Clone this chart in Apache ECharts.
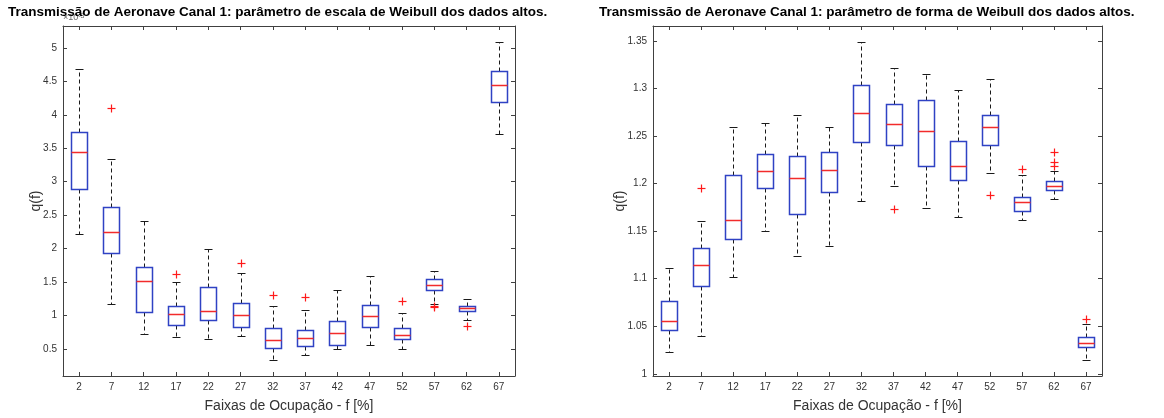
<!DOCTYPE html>
<html>
<head>
<meta charset="utf-8">
<script src="https://cdn.jsdelivr.net/npm/echarts@6/dist/echarts.min.js"></script>
<style>
html,body{margin:0;padding:0;background:#fff;}
#chart{width:1164px;height:418px;}
</style>
</head>
<body>
<div id="chart"></div>
<script>
// ---- data ----
const categories = ['2','7','12','17','22','27','32','37','42','47','52','57','62','67'];

const leftTicks = [0.5, 1, 1.5, 2, 2.5, 3, 3.5, 4, 4.5, 5];
const rightTicks = [1, 1.05, 1.1, 1.15, 1.2, 1.25, 1.3, 1.35];

// scale parameter (x10^-3)
const scaleLow  = [2.215, 1.171, 0.721, 0.676, 0.641, 0.685, 0.332, 0.401, 0.490, 0.553, 0.490, 1.176, 0.926, 3.706];
const scaleQ1   = [2.891, 1.926, 1.044, 0.853, 0.935, 0.832, 0.504, 0.534, 0.559, 0.828, 0.641, 1.382, 1.059, 4.191];
const scaleMed  = [3.441, 2.240, 1.515, 1.019, 1.068, 1.009, 0.627, 0.656, 0.735, 0.985, 0.706, 1.456, 1.103, 4.446];
const scaleQ3   = [3.744, 2.622, 1.721, 1.147, 1.421, 1.185, 0.813, 0.774, 0.921, 1.156, 0.818, 1.544, 1.147, 4.662];
const scaleHigh = [4.686, 3.338, 2.412, 1.500, 1.985, 1.632, 1.147, 1.078, 1.372, 1.582, 1.029, 1.666, 1.240, 5.082];
const scaleOutliers = [[1,4.103],[3,1.618],[5,1.788],[6,1.299],[7,1.274],[10,1.221],[11,1.135],[11,1.120],[12,0.843]];

// shape parameter
const shapeLow  = [1.0228,1.0397,1.1016,1.1506,1.1244,1.1340,1.1817,1.1973,1.1741,1.1651,1.2114,1.1620,1.1838,1.0142];
const shapeQ1   = [1.0464,1.0920,1.1417,1.1959,1.1676,1.1907,1.2436,1.2405,1.2187,1.2039,1.2402,1.1713,1.1928,1.0277];
const shapeMed  = [1.0560,1.1148,1.1617,1.2132,1.2060,1.2146,1.2744,1.2630,1.2557,1.2184,1.2591,1.1804,1.1980,1.0322];
const shapeQ3   = [1.0770,1.1324,1.2094,1.2315,1.2291,1.2332,1.3037,1.2833,1.2884,1.2453,1.2726,1.1863,1.2024,1.0391];
const shapeHigh = [1.1112,1.1610,1.2591,1.2633,1.2723,1.2594,1.3486,1.3216,1.3148,1.2985,1.3099,1.2091,1.2135,1.0526];
const shapeOutliers = [[1,1.1956],[7,1.1731],[10,1.1883],[11,1.2153],[12,1.2329],[12,1.2228],[12,1.2187],[13,1.0581]];

// ---- build ----
const FONT = "'Liberation Sans', Arial, Helvetica, sans-serif";
const AXIS_COLOR = '#404040';
const LABEL_COLOR = '#333333';
const BOX_COLOR = '#2f42c4';
const MED_COLOR = '#f22b2b';
const OUT_COLOR = '#ff1a1a';

function boxData(lo, q1, med, q3, hi) {
  return categories.map((c, i) => [i, lo[i], q1[i], med[i], q3[i], hi[i]]);
}

function renderBox(params, api) {
  const idx = api.value(0);
  const pLo = api.coord([idx, api.value(1)]);
  const pQ1 = api.coord([idx, api.value(2)]);
  const pMed = api.coord([idx, api.value(3)]);
  const pQ3 = api.coord([idx, api.value(4)]);
  const pHi = api.coord([idx, api.value(5)]);
  const bw = api.size([1, 0])[0];
  const x = Math.round(pLo[0]) + 0.5;
  const half = Math.round(bw * 0.25);
  const cap = Math.round(bw * 0.125);
  const r = v => Math.round(v) + 0.5;
  const dash = { stroke: '#1a1a1a', lineWidth: 1, lineDash: [4, 3], fill: null };
  const solid = { stroke: '#1a1a1a', lineWidth: 1, fill: null };
  return {
    type: 'group',
    children: [
      { type: 'line', shape: { x1: x, y1: r(pQ3[1]), x2: x, y2: r(pHi[1]) }, style: dash },
      { type: 'line', shape: { x1: x, y1: r(pQ1[1]), x2: x, y2: r(pLo[1]) }, style: dash },
      { type: 'line', shape: { x1: x - cap, y1: r(pHi[1]), x2: x + cap, y2: r(pHi[1]) }, style: solid },
      { type: 'line', shape: { x1: x - cap, y1: r(pLo[1]), x2: x + cap, y2: r(pLo[1]) }, style: solid },
      { type: 'rect', shape: { x: x - half, y: r(pQ3[1]), width: 2 * half, height: r(pQ1[1]) - r(pQ3[1]) },
        style: { stroke: BOX_COLOR, lineWidth: 1.5, fill: '#fff' } },
      { type: 'line', shape: { x1: x - half, y1: r(pMed[1]), x2: x + half, y2: r(pMed[1]) },
        style: { stroke: MED_COLOR, lineWidth: 1.5 } }
    ]
  };
}

function renderOutlier(params, api) {
  const p = api.coord([api.value(0), api.value(1)]);
  const x = Math.round(p[0]) + 0.5, y = Math.round(p[1]) + 0.5;
  const s = 4;
  const st = { stroke: OUT_COLOR, lineWidth: 1.2 };
  return {
    type: 'group',
    children: [
      { type: 'line', shape: { x1: x - s, y1: y, x2: x + s, y2: y }, style: st },
      { type: 'line', shape: { x1: x, y1: y - s, x2: x, y2: y + s }, style: st }
    ]
  };
}

const fmt = v => String(+(+v).toFixed(3));

function xAxes(gridIndex) {
  return [
    {
      type: 'category', gridIndex, position: 'bottom', data: categories,
      boundaryGap: true,
      axisLine: { show: true, lineStyle: { color: AXIS_COLOR, width: 1 } },
      axisTick: { show: true, inside: true, alignWithLabel: true, length: 4, lineStyle: { color: AXIS_COLOR } },
      axisLabel: { show: true, color: LABEL_COLOR, fontSize: 10, fontFamily: FONT, margin: 6, interval: 0 },
      splitLine: { show: false },
      name: 'Faixas de Ocupação - f [%]', nameLocation: 'middle', nameGap: 23,
      nameMoveOverlap: false,
      nameTextStyle: { color: LABEL_COLOR, fontSize: 14, fontFamily: FONT }
    },
    {
      type: 'category', gridIndex, position: 'top', data: categories,
      boundaryGap: true,
      axisLine: { show: true, lineStyle: { color: AXIS_COLOR, width: 1 } },
      axisTick: { show: true, inside: true, alignWithLabel: true, length: 4, lineStyle: { color: AXIS_COLOR } },
      axisLabel: { show: false, interval: 0 },
      splitLine: { show: false }
    }
  ];
}

function yAxes(gridIndex, min, max, ticks, gap) {
  return [
    {
      type: 'value', gridIndex, position: 'left', min, max,
      axisLine: { show: true, lineStyle: { color: AXIS_COLOR, width: 1 } },
      axisTick: { show: true, inside: true, length: 4, customValues: ticks, lineStyle: { color: AXIS_COLOR } },
      axisLabel: { show: true, customValues: ticks, formatter: fmt, color: LABEL_COLOR, fontSize: 10, fontFamily: FONT, margin: 6 },
      splitLine: { show: false },
      name: 'q(f)', nameLocation: 'middle', nameRotate: 90, nameGap: gap,
      nameMoveOverlap: false,
      nameTextStyle: { color: LABEL_COLOR, fontSize: 14, fontFamily: FONT }
    },
    {
      type: 'value', gridIndex, position: 'right', min, max,
      axisLine: { show: true, lineStyle: { color: AXIS_COLOR, width: 1 } },
      axisTick: { show: true, inside: true, length: 4, customValues: ticks, lineStyle: { color: AXIS_COLOR } },
      axisLabel: { show: false, customValues: ticks },
      splitLine: { show: false }
    }
  ];
}

const option = {
  backgroundColor: '#ffffff',
  animation: false,
  title: [
    { text: 'Transmissão de Aeronave Canal 1: parâmetro de escala de Weibull dos dados altos.',
      left: 8, top: 5, z: 10, padding: 0,
      textStyle: { fontSize: 13.5, fontWeight: 'bold', color: '#000', fontFamily: FONT } },
    { text: 'Transmissão de Aeronave Canal 1: parâmetro de forma de Weibull dos dados altos.',
      left: 599, top: 5, z: 10, padding: 0,
      textStyle: { fontSize: 13.5, fontWeight: 'bold', color: '#000', fontFamily: FONT } }
  ],
  graphic: [
    { type: 'text', left: 63, top: 13, z: 0,
      style: { text: '×10{s|-3}', fill: '#666', font: '9px ' + FONT,
        rich: { s: { fontSize: 7, verticalAlign: 'top', fill: '#666' } } } }
  ],
  grid: [
    { left: 63, top: 26, width: 452, height: 356, containLabel: false },
    { left: 653, top: 26, width: 449, height: 356, containLabel: false }
  ],
  xAxis: [...xAxes(0), ...xAxes(1)],
  yAxis: [...yAxes(0, 0.0926, 5.328, leftTicks, 20), ...yAxes(1, 0.9977, 1.3658, rightTicks, 26)],
  series: [
    { type: 'custom', xAxisIndex: 0, yAxisIndex: 0, renderItem: renderBox,
      encode: { x: 0, y: [1, 2, 3, 4, 5] },
      data: boxData(scaleLow, scaleQ1, scaleMed, scaleQ3, scaleHigh) },
    { type: 'custom', xAxisIndex: 0, yAxisIndex: 0, renderItem: renderOutlier,
      encode: { x: 0, y: 1 }, data: scaleOutliers },
    { type: 'custom', xAxisIndex: 2, yAxisIndex: 2, renderItem: renderBox,
      encode: { x: 0, y: [1, 2, 3, 4, 5] },
      data: boxData(shapeLow, shapeQ1, shapeMed, shapeQ3, shapeHigh) },
    { type: 'custom', xAxisIndex: 2, yAxisIndex: 2, renderItem: renderOutlier,
      encode: { x: 0, y: 1 }, data: shapeOutliers }
  ]
};

const chart = echarts.init(document.getElementById('chart'), null, { renderer: 'canvas' });
chart.setOption(option);
</script>
</body>
</html>
